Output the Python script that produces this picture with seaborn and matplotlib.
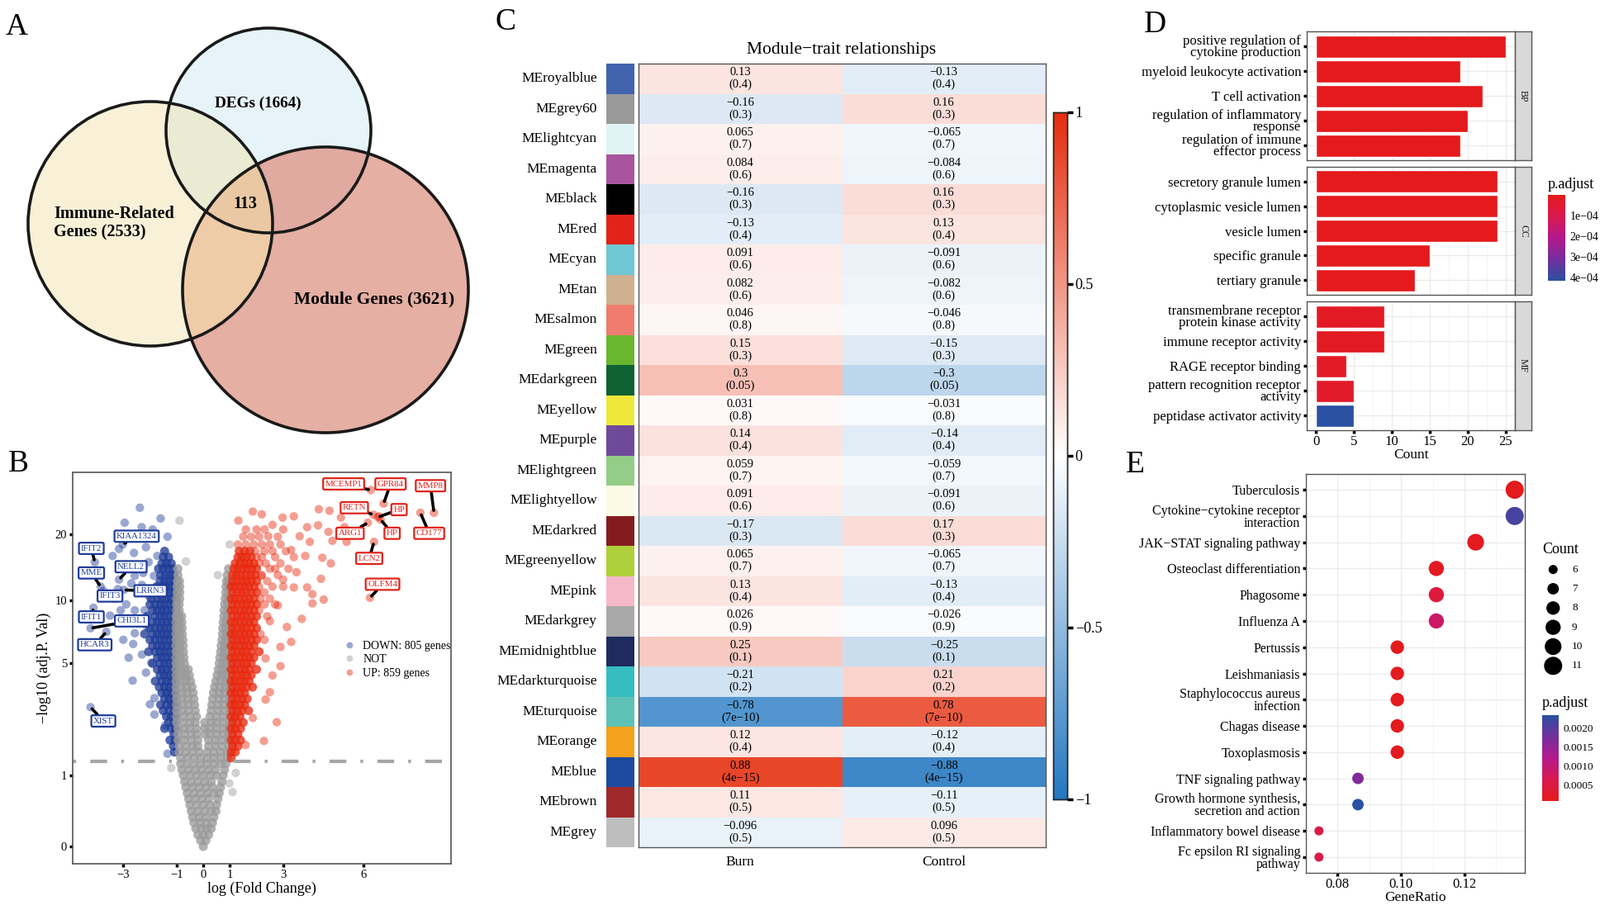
import numpy as np
import pandas as pd
import matplotlib
matplotlib.use("Agg")
import matplotlib.pyplot as plt
import seaborn as sns
from matplotlib.colors import LinearSegmentedColormap, ListedColormap, Normalize, to_rgb
from matplotlib.patches import Circle
from matplotlib.cm import ScalarMappable

# ======================= DATA =======================
# ---- A: Venn ----
venn_labels = ["Immune-Related\nGenes (2533)", "DEGs (1664)", "Module Genes (3621)"]
venn_core = "113"

# ---- B: volcano (logFC, -log10 adj.P) ----
# dense cores, row by row: (-log10 adj.P, logFC values)
not_rows = [
    (0.0, (0.0,)), (0.06, (-0.1, 0.1)), (0.12, (-0.2, 0.0, 0.2)),
    (0.19, (-0.28, -0.08, 0.12, 0.3)), (0.26, (-0.35, -0.12, 0.12, 0.35)),
    (0.33, (-0.4, -0.15, 0.1, 0.4)), (0.41, (-0.45, -0.2, 0.05, 0.3, 0.48)),
    (0.50, (-0.5, -0.25, 0.0, 0.25, 0.5)), (0.59, (-0.55, -0.3, -0.05, 0.2, 0.55)),
    (0.68, (-0.6, -0.35, -0.1, 0.15, 0.4, 0.6)), (0.78, (-0.65, -0.4, -0.15, 0.1, 0.35, 0.65)),
    (0.88, (-0.7, -0.45, -0.2, 0.05, 0.3, 0.7)), (1.0, (-0.75, -0.5, -0.25, 0.0, 0.25, 0.5, 0.75)),
    (1.11, (-0.8, -0.55, -0.3, -0.05, 0.2, 0.45, 0.8)),
    (1.24, (-0.85, -0.6, -0.35, -0.1, 0.15, 0.4, 0.65, 0.85)),
    (1.37, (-0.85, -0.6, -0.35, -0.1, 0.15, 0.4, 0.65, 0.9)),
    (1.51, (-0.9, -0.65, -0.4, -0.15, 0.15, 0.4, 0.65, 0.9)),
    (1.66, (-0.9, -0.65, -0.4, -0.2, 0.2, 0.45, 0.7, 0.95)),
    (1.82, (-0.95, -0.7, -0.45, -0.2, 0.2, 0.45, 0.7, 0.95)),
    (1.99, (-0.95, -0.7, -0.45, -0.25, 0.05, 0.25, 0.5, 0.75, 0.95)),
    (2.16, (-0.95, -0.7, -0.5, -0.25, 0.05, 0.25, 0.5, 0.75, 0.95)),
    (2.35, (-1.0, -0.75, -0.5, -0.3, 0.05, 0.3, 0.5, 0.75, 1.0)),
    (2.55, (-1.0, -0.75, -0.5, -0.25, 0.25, 0.5, 0.75, 1.0)),
    (2.76, (-1.0, -0.78, -0.55, -0.3, 0.3, 0.55, 0.78, 1.0)),
    (2.98, (-1.0, -0.78, -0.55, -0.32, 0.32, 0.55, 0.78, 1.0)),
    (3.22, (-1.0, -0.8, -0.58, -0.35, 0.35, 0.58, 0.8, 1.0)),
    (3.47, (-1.02, -0.8, -0.6, -0.38, 0.38, 0.6, 0.8, 1.0)),
    (3.73, (-1.02, -0.82, -0.62, -0.42, 0.42, 0.62, 0.82, 1.0)),
    (4.01, (-1.02, -0.84, -0.65, -0.47, 0.47, 0.65, 0.84, 1.0)),
    (4.31, (-1.02, -0.85, -0.68, -0.52, 0.52, 0.68, 0.85, 1.0)),
    (4.62, (-1.02, -0.86, -0.7, -0.56, 0.56, 0.7, 0.86, 1.0)),
    (4.96, (-1.02, -0.86, -0.7, 0.6, 0.75, 0.9, 1.0)),
    (5.31, (-1.02, -0.87, -0.72, 0.62, 0.77, 0.92)),
    (5.68, (-1.02, -0.88, -0.74, 0.65, 0.8, 0.94)),
    (6.08, (-1.02, -0.88, -0.75, 0.67, 0.82, 0.96)),
    (6.50, (-1.02, -0.89, -0.76, 0.7, 0.84, 0.97)),
    (6.94, (-1.02, -0.9, -0.78, 0.72, 0.85, 0.98)),
    (7.41, (-1.02, -0.9, -0.79, 0.73, 0.86, 0.98)),
    (7.91, (-1.02, -0.9, -0.8, 0.75, 0.88)),
    (8.44, (-1.02, -0.91, -0.81, 0.77, 0.9)),
    (9.0, (-1.0, -0.9, 0.78, 0.92)), (9.59, (-1.0, -0.9, 0.8, 0.93)),
    (10.2, (-1.0, -0.88, 0.82, 0.94)), (10.9, (-0.98, -0.88, 0.84, 0.95)),
    (11.6, (-0.98, -0.88, 0.85, 0.96)), (12.3, (-0.97, -0.89, 0.87, 0.96)),
    (13.1, (-0.95, 0.9)), (14.0, (-0.95, 0.95)),
]
not_extra = [(0.55, 13.1), (-0.65, 15.1), (0.99, 18.0), (-0.89, 23.0), (1.22, 1.05),
             (0.98, 0.85), (-1.2, 1.15), (1.1, 0.7)]
down_rows = [
    (1.51, (-1.08,)), (1.66, (-1.12,)), (1.82, (-1.05, -1.25)), (1.99, (-1.1,)),
    (2.16, (-1.05, -1.2, -1.45)), (2.35, (-1.1, -1.3)), (2.55, (-1.05, -1.2, -1.38)),
    (2.76, (-1.1, -1.28, -1.5)), (2.98, (-1.05, -1.2, -1.38, -1.6)),
    (3.22, (-1.1, -1.28, -1.45)), (3.47, (-1.05, -1.2, -1.38, -1.55)),
    (3.73, (-1.1, -1.28, -1.45, -1.65)), (4.01, (-1.05, -1.2, -1.38, -1.55, -1.8)),
    (4.31, (-1.1, -1.28, -1.45, -1.62)), (4.62, (-1.05, -1.2, -1.38, -1.55, -1.72)),
    (4.96, (-1.1, -1.28, -1.45, -1.62, -1.9)), (5.31, (-1.05, -1.2, -1.38, -1.55, -1.72)),
    (5.68, (-1.1, -1.28, -1.45, -1.62, -1.8, -2.05)),
    (6.08, (-1.05, -1.2, -1.38, -1.55, -1.72, -1.9)),
    (6.50, (-1.1, -1.28, -1.45, -1.62, -1.8, -2.0)),
    (6.94, (-1.05, -1.2, -1.38, -1.55, -1.72, -1.9, -2.2)),
    (7.41, (-1.1, -1.28, -1.45, -1.62, -1.8, -2.0)),
    (7.91, (-1.05, -1.2, -1.38, -1.55, -1.72, -1.9)),
    (8.44, (-1.1, -1.28, -1.45, -1.62, -1.8, -2.1)),
    (9.0, (-1.05, -1.2, -1.38, -1.55, -1.72, -1.9)),
    (9.59, (-1.1, -1.28, -1.45, -1.62, -1.8, -2.0)),
    (10.2, (-1.05, -1.2, -1.38, -1.55, -1.72, -1.95)),
    (10.9, (-1.1, -1.28, -1.45, -1.62, -1.8)),
    (11.6, (-1.05, -1.2, -1.38, -1.55, -1.75)),
    (12.3, (-1.1, -1.28, -1.45, -1.62)), (13.1, (-1.1, -1.25, -1.42, -1.6)),
    (14.0, (-1.15, -1.32, -1.5, -1.68)), (14.8, (-1.2, -1.38, -1.55)),
    (15.8, (-1.3, -1.5)), (16.8, (-1.45,)),
]
down_extra = [
    (-2.38, 26.2), (-2.95, 22.5), (-2.31, 21.5), (-1.34, 19.5), (-3.16, 17.2),
    (-2.63, 6.2), (-2.65, 4.04), (-2.15, 4.45), (-1.83, 3.25), (-1.83, 2.62),
    (-1.43, 2.26), (-1.34, 1.47), (-2.89, 9.6), (-2.57, 9.0), (-2.04, 10.5),
    (-2.57, 7.0), (-3.2, 11.3), (-2.25, 13.4), (-1.72, 16.0), (-2.57, 13.0),
    (-2.15, 17.5), (-2.2, 9.0), (-3.32, 10.2), (-2.4, 7.8), (-2.8, 5.3),
    (-2.9, 14.5), (-3.4, 16.0), (-2.6, 16.5), (-3.5, 8.5), (-3.0, 6.5), (-2.3, 5.5),
    (-2.0, 3.0), (-1.95, 5.0), (-2.1, 7.5), (-2.3, 11.8), (-2.7, 12.0), (-3.1, 9.0),
    (-2.45, 20.0), (-1.9, 21.0), (-1.6, 23.5), (-1.85, 13.0), (-2.05, 15.0),
]
up_rows = [
    (1.37, (1.05,)), (1.51, (1.05, 1.2)), (1.66, (1.1, 1.3)), (1.82, (1.05, 1.2, 1.4)),
    (1.99, (1.1, 1.3)), (2.16, (1.05, 1.2, 1.4)), (2.35, (1.1, 1.28, 1.5)),
    (2.55, (1.05, 1.2, 1.38)), (2.76, (1.1, 1.28, 1.45, 1.7)),
    (2.98, (1.05, 1.2, 1.38, 1.55)), (3.22, (1.1, 1.28, 1.45, 1.65)),
    (3.47, (1.05, 1.2, 1.38, 1.55)), (3.73, (1.1, 1.28, 1.45, 1.62, 1.85)),
    (4.01, (1.05, 1.2, 1.38, 1.55, 1.72)), (4.31, (1.1, 1.28, 1.45, 1.62, 1.8)),
    (4.62, (1.05, 1.2, 1.38, 1.55, 1.72, 2.0)), (4.96, (1.1, 1.28, 1.45, 1.62, 1.8)),
    (5.31, (1.05, 1.2, 1.38, 1.55, 1.72, 1.9)),
    (5.68, (1.1, 1.28, 1.45, 1.62, 1.8, 2.1)),
    (6.08, (1.05, 1.2, 1.38, 1.55, 1.72, 1.9)),
    (6.50, (1.1, 1.28, 1.45, 1.62, 1.8, 2.0)),
    (6.94, (1.05, 1.2, 1.38, 1.55, 1.72, 1.9)),
    (7.41, (1.1, 1.28, 1.45, 1.62, 1.8, 2.0)),
    (7.91, (1.05, 1.2, 1.38, 1.55, 1.72, 1.9)),
    (8.44, (1.1, 1.28, 1.45, 1.62, 1.8, 2.0)),
    (9.0, (1.05, 1.2, 1.38, 1.55, 1.72, 1.9)),
    (9.59, (1.1, 1.28, 1.45, 1.62, 1.8, 2.0)),
    (10.2, (1.05, 1.2, 1.38, 1.55, 1.72, 1.9)),
    (10.9, (1.1, 1.28, 1.45, 1.62, 1.8, 2.0)),
    (11.6, (1.05, 1.2, 1.38, 1.55, 1.72, 1.9)),
    (12.3, (1.1, 1.28, 1.45, 1.62, 1.8, 2.0)),
    (13.1, (1.1, 1.25, 1.42, 1.6, 1.78, 1.95)),
    (14.0, (1.15, 1.3, 1.48, 1.65, 1.82, 2.0)),
    (14.8, (1.2, 1.38, 1.55, 1.72, 1.9)),
    (15.8, (1.3, 1.45, 1.62, 1.8)),
    (16.8, (1.35, 1.55, 1.75)),
]
up_extra = [
    (1.86, 25.2), (1.32, 23.0), (2.98, 23.7), (4.34, 25.8), (4.74, 25.4), (4.31, 21.9),
    (5.17, 23.7), (6.6, 24.0), (4.85, 18.7), (5.38, 18.5), (4.47, 15.7), (4.79, 14.8),
    (4.42, 12.6), (4.1, 10.7), (4.52, 10.1), (4.1, 9.7), (3.4, 11.5), (3.14, 7.5),
    (3.3, 6.35), (2.34, 5.26), (2.34, 3.19), (2.76, 2.36), (2.28, 1.8), (1.86, 2.5),
    (1.59, 1.69), (3.62, 19.6), (3.83, 16.0), (2.44, 19.6), (2.18, 13.0), (2.6, 4.3),
    (2.5, 8.0), (2.8, 9.5), (3.0, 12.5), (2.7, 14.0), (3.5, 13.5), (3.9, 11.5),
    (2.9, 6.0), (2.5, 3.5), (2.9, 4.8), (3.7, 8.2), (3.3, 17.0), (4.0, 18.5),
    (3.9, 21.5), (2.6, 22.0), (3.4, 24.0), (2.2, 24.5), (4.7, 20.5), (5.3, 21.5),
    (2.3, 6.5), (2.15, 6.94), (2.4, 8.44), (2.1, 9.0), (2.3, 9.59), (2.7, 9.59),
    (2.15, 10.2), (2.5, 10.2), (2.3, 10.9), (2.1, 11.6), (2.6, 11.6), (3.0, 11.6),
    (2.4, 12.3), (2.2, 13.1), (2.8, 13.1), (2.5, 14.0), (3.2, 14.0), (2.1, 14.8),
    (2.35, 14.8), (2.9, 14.8), (2.0, 15.8), (2.2, 15.8), (2.7, 15.8), (3.4, 15.8),
    (1.95, 16.8), (2.3, 16.8), (2.6, 16.8), (3.1, 16.8), (1.3, 18.0), (1.6, 18.0),
    (1.9, 18.0), (2.2, 18.0), (2.5, 18.0), (2.9, 18.0), (1.5, 19.5), (1.8, 19.5),
    (2.1, 19.5), (2.8, 19.5), (1.6, 21.0), (2.0, 21.0), (2.3, 21.0), (3.0, 21.0),
]
group_names = ["DOWN: 805 genes", "NOT", "UP: 859 genes"]
padj_cut = 1.301
down_genes = ["KIAA1324", "IFIT2", "MME", "NELL2", "LRRN3", "IFIT3", "IFIT1", "CHI3L1", "HCAR3", "XIST"]
down_gene_pts = [(-3.02, 18.0), (-4.07, 15.0), (-3.85, 11.6), (-3.16, 12.5), (-2.98, 11.2),
                 (-3.75, 11.1), (-4.12, 9.25), (-4.23, 7.4), (-3.64, 7.1), (-4.23, 2.89)]
up_genes = ["MCEMP1", "GPR84", "MMP8", "RETN", "HP", "ARG1", "HP", "CD177", "LCN2", "OLFM4"]
up_gene_pts = [(6.29, 31.3), (6.77, 27.3), (8.66, 24.9), (6.39, 24.4), (6.55, 23.8),
               (6.18, 22.5), (6.66, 23.2), (8.15, 24.9), (6.41, 18.5), (6.26, 10.3)]

# ---- C: module-trait heatmap ----
modules = ["royalblue", "grey60", "lightcyan", "magenta", "black", "red", "cyan", "tan",
           "salmon", "green", "darkgreen", "yellow", "purple", "lightgreen", "lightyellow",
           "darkred", "greenyellow", "pink", "darkgrey", "midnightblue", "darkturquoise",
           "turquoise", "orange", "blue", "brown", "grey"]
burn_cor = [0.13, -0.16, 0.065, 0.084, -0.16, -0.13, 0.091, 0.082, 0.046, 0.15, 0.3, 0.031,
            0.14, 0.059, 0.091, -0.17, 0.065, 0.13, 0.026, 0.25, -0.21, -0.78, 0.12, 0.88,
            0.11, -0.096]
control_cor = [-0.13, 0.16, -0.065, -0.084, 0.16, 0.13, -0.091, -0.082, -0.046, -0.15, -0.3,
               -0.031, -0.14, -0.059, -0.091, 0.17, -0.065, -0.13, -0.026, -0.25, 0.21, 0.78,
               -0.12, -0.88, -0.11, 0.096]
trait_p = [0.4, 0.3, 0.7, 0.6, 0.3, 0.4, 0.6, 0.6, 0.8, 0.3, 0.05, 0.8, 0.4, 0.7, 0.6, 0.3,
           0.7, 0.4, 0.9, 0.1, 0.2, 7e-10, 0.4, 4e-15, 0.5, 0.5]
traits = ["Burn", "Control"]

# ---- D: GO enrichment ----
bp_terms = ["positive regulation of\ncytokine production", "myeloid leukocyte activation",
            "T cell activation", "regulation of inflammatory\nresponse",
            "regulation of immune\neffector process"]
bp_counts = [25, 19, 22, 20, 19]
bp_padj = [1e-9, 2e-9, 2e-9, 3e-9, 4e-9]
cc_terms = ["secretory granule lumen", "cytoplasmic vesicle lumen", "vesicle lumen",
            "specific granule", "tertiary granule"]
cc_counts = [24, 24, 24, 15, 13]
cc_padj = [1e-9, 1e-9, 1e-9, 2e-9, 3e-9]
mf_terms = ["transmembrane receptor\nprotein kinase activity", "immune receptor activity",
            "RAGE receptor binding", "pattern recognition receptor\nactivity",
            "peptidase activator activity"]
mf_counts = [9, 9, 4, 5, 5]
mf_padj = [1.6e-5, 1.6e-5, 2.2e-5, 2.8e-5, 4.16e-4]

# ---- E: KEGG enrichment ----
kegg_terms = ["Tuberculosis", "Cytokine\u2212cytokine receptor\ninteraction",
              "JAK\u2212STAT signaling pathway", "Osteoclast differentiation", "Phagosome",
              "Influenza A", "Pertussis", "Leishmaniasis", "Staphylococcus aureus\ninfection",
              "Chagas disease", "Toxoplasmosis", "TNF signaling pathway",
              "Growth hormone synthesis,\nsecretion and action", "Inflammatory bowel disease",
              "Fc epsilon RI signaling\npathway"]
kegg_count = [11, 11, 10, 9, 9, 9, 8, 8, 8, 8, 8, 7, 7, 6, 6]
kegg_ratio = [0.1358, 0.1358, 0.1235, 0.1111, 0.1111, 0.1111, 0.0988, 0.0988, 0.0988,
              0.0988, 0.0988, 0.0864, 0.0864, 0.0741, 0.0741]
kegg_padj = [0.000083, 0.00210, 0.00012, 0.00015, 0.00045, 0.00085, 0.00010, 0.00011,
             0.00012, 0.00010, 0.00012, 0.00165, 0.00233, 0.00060, 0.00062]
count_levels = [6, 7, 8, 9, 10, 11]

# ======================= STYLE =======================
sns.set_theme(style="white")
plt.rcParams['font.family'] = ['Liberation Serif', 'DejaVu Serif']
for k in ['text.color', 'axes.labelcolor', 'xtick.color', 'ytick.color']:
    plt.rcParams[k] = 'black'
plt.rcParams['axes.unicode_minus'] = True

W, H = 1937, 1102
fig = plt.figure(figsize=(W / 100, H / 100), dpi=100)
fig.patch.set_facecolor('white')


def add_ax(l, t, r, b):
    return fig.add_axes([l / W, 1 - b / H, (r - l) / W, (b - t) / H])


FRAME = '#555555'
go_cmap = LinearSegmentedColormap.from_list(
    'go', [(0, '#E41A1C'), (0.25, '#D91A4E'), (0.5, '#B5188D'), (0.75, '#732F9C'), (1, '#2A50A2')])
wgcna_cmap = LinearSegmentedColormap.from_list(
    'bwr', [(0, '#2377C0'), (0.5, '#FFFFFF'), (1, '#E52D0D')])

# ======================= A: Venn =======================
axA = add_ax(0, 0, 600, 560)
axA.set_xlim(0, 600)
axA.set_ylim(560, 0)
axA.axis('off')
circles = [(182, 271, 148), (325, 158, 124), (394, 351, 173)]  # immune, DEGs, module
yy, xx = np.mgrid[0:560, 0:600]
yy = yy + 0.5
xx = xx + 0.5
ins = [((xx - cx) ** 2 + (yy - cy) ** 2) <= r ** 2 for cx, cy, r in circles]
I, Dg, M = ins
img = np.ones((560, 600, 3))
region_cols = [
    (I & ~Dg & ~M, '#F8F1D8'), (Dg & ~I & ~M, '#E6F3F8'), (M & ~I & ~Dg, '#E5AFA3'),
    (I & Dg & ~M, '#EAEBD3'), (I & M & ~Dg, '#EECCA8'), (Dg & M & ~I, '#E0AAA0'),
    (I & Dg & M, '#EAC8A4'),
]
for mask, col in region_cols:
    img[mask] = to_rgb(col)
axA.imshow(img, extent=(0, 600, 560, 0), interpolation='bilinear', aspect='auto')
for cx, cy, r in circles:
    axA.add_patch(Circle((cx, cy), r, fill=False, ec='#1a1a1a', lw=2.6))
axA.text(65, 270, venn_labels[0], ha='left', va='center', fontsize=14.5, fontweight='bold',
         linespacing=1.2)
axA.text(312, 125, venn_labels[1], ha='center', va='center', fontsize=13.8, fontweight='bold')
axA.text(453, 362, venn_labels[2], ha='center', va='center', fontsize=15.5, fontweight='bold')
axA.text(297, 247, venn_core, ha='center', va='center', fontsize=14.5, fontweight='bold')


# ======================= B: Volcano =======================
def expand(rows):
    return [(x, y) for y, xs in rows for x in xs]


def frame(pts, g):
    return pd.DataFrame([(x, y, g) for x, y in pts], columns=['logFC', 'nlogp', 'group'])


pal_B = {group_names[0]: '#1F3C98', group_names[1]: '#9A9A9A', group_names[2]: '#E8290F'}
dense_df = pd.concat([frame(expand(down_rows), group_names[0]),
                      frame(expand(not_rows), group_names[1]),
                      frame(expand(up_rows), group_names[2])], ignore_index=True)
sparse_df = pd.concat([frame(down_extra + down_gene_pts, group_names[0]),
                       frame(not_extra, group_names[1]),
                       frame(up_extra + up_gene_pts, group_names[2])], ignore_index=True)

axB = add_ax(88, 572, 546, 1046)
axB.set_yscale('function', functions=(lambda v: np.log10(1 + np.clip(v, -0.99, None)),
                                      lambda v: 10 ** v - 1))
sns.scatterplot(data=sparse_df, x='logFC', y='nlogp', hue='group', hue_order=group_names,
                palette=pal_B, s=55, alpha=0.45, linewidth=0, ax=axB, legend=True)
sns.scatterplot(data=dense_df, x='logFC', y='nlogp', hue='group', hue_order=group_names,
                palette=pal_B, s=62, alpha=0.78, linewidth=0, ax=axB, legend=False)
axB.set_xlim(-4.9, 9.3)
axB.set_ylim(-0.155, 37.4)
axB.axhline(padj_cut, color='#A6A6A6', lw=3, solid_capstyle='butt', dash_capstyle='butt',
            linestyle=(8.8, (4.9, 4.1, 0.8, 4.1)), zorder=1)
axB.set_xticks([-3, -1, 0, 1, 3, 6])
axB.set_yticks([0, 1, 5, 10, 20])
axB.set_yticklabels(['0', '1', '5', '10', '20'])
axB.minorticks_off()
axB.tick_params(axis='both', length=3, width=2.5, direction='out', labelsize=10.5, pad=2,
                bottom=True, left=True)
axB.set_xlabel('log (Fold Change)', fontsize=13, labelpad=1)
axB.set_ylabel('\u2212log10 (adj.P. Val)', fontsize=13, labelpad=3)
for sp in axB.spines.values():
    sp.set_color(FRAME)
    sp.set_linewidth(1.2)
leg = axB.legend(loc='upper left', bbox_to_anchor=(0.685, 0.585), frameon=False,
                 fontsize=10, handletextpad=0.2, labelspacing=0.25, borderpad=0,
                 markerscale=0.75)
for h in leg.legend_handles:
    h.set_alpha(0.45)

down_label_pos = [(-2.5, 19.6), (-4.2, 17.3), (-4.2, 13.4), (-2.71, 14.3), (-1.98, 11.1),
                  (-3.5, 10.5), (-4.2, 8.38), (-2.68, 8.02), (-4.07, 6.15), (-3.75, 2.4)]
up_label_pos = [(5.27, 33.3), (7.03, 33.3), (8.53, 32.7), (5.67, 26.2), (7.35, 25.7),
                (5.51, 20.2), (7.09, 20.2), (8.48, 20.2), (6.23, 15.6), (6.73, 11.9)]
for genes, pts, poss, col in [(down_genes, down_gene_pts, down_label_pos, '#1F3C98'),
                              (up_genes, up_gene_pts, up_label_pos, '#E0231A')]:
    for g, p, tp in zip(genes, pts, poss):
        axB.annotate(g, xy=p, xytext=tp, ha='center', va='center', fontsize=7.8, color=col,
                     bbox=dict(boxstyle='round,pad=0.22,rounding_size=0.15', fc='white',
                               ec=col, lw=1.6),
                     arrowprops=dict(arrowstyle='-', color='black', lw=2.6, shrinkA=0,
                                     shrinkB=2), zorder=5)

# ======================= C: Heatmap =======================
module_colors = ['#4263AE', '#999999', '#E1F3F5', '#A9559E', '#000000', '#E2231A', '#6EC7D3',
                 '#CFB08F', '#EE7D6F', '#6AB62E', '#0F6232', '#EFE83A', '#6F4A9B', '#94CD87',
                 '#FBFAE5', '#841C1F', '#AECF3A', '#F5B8C8', '#A8A8A8', '#1F2A5E', '#37BDC0',
                 '#5EC1B6', '#F4A11D', '#1E4AA0', '#9F2A2A', '#BEBEBE']
row_names = ['ME' + m for m in modules]
axS = add_ax(734, 77, 768, 1026)
strip_df = pd.DataFrame({'m': list(range(len(modules)))}, index=row_names)
sns.heatmap(strip_df, ax=axS, cmap=ListedColormap(module_colors), cbar=False,
            vmin=-0.5, vmax=len(modules) - 0.5, xticklabels=False, yticklabels=True)
axS.tick_params(axis='y', length=0, pad=8, labelsize=12.5)
plt.setp(axS.get_yticklabels(), rotation=0)
axS.set_ylabel('')


def fmt_r(v):
    return f"{v:.2g}".replace('-', '\u2212')


def fmt_p(v):
    return f"{v:.1g}".replace('-', '\u2212')


cor_df = pd.DataFrame({traits[0]: burn_cor, traits[1]: control_cor}, index=row_names)
annot = np.array([[f"{fmt_r(a)}\n({fmt_p(p)})", f"{fmt_r(b)}\n({fmt_p(p)})"]
                  for a, b, p in zip(burn_cor, control_cor, trait_p)])
axC = add_ax(773, 77, 1266, 1026)
caxC = add_ax(1275, 136, 1292, 968)
sns.heatmap(cor_df, ax=axC, cmap=wgcna_cmap, vmin=-1, vmax=1, annot=annot, fmt='',
            annot_kws={'fontsize': 10.5, 'color': 'black', 'linespacing': 1.1},
            cbar_ax=caxC, yticklabels=False)
axC.tick_params(axis='x', length=0, pad=7, labelsize=12.5)
plt.setp(axC.get_xticklabels(), rotation=0)
for sp in axC.spines.values():
    sp.set_visible(True)
    sp.set_color(FRAME)
    sp.set_linewidth(1)
caxC.set_yticks([-1, -0.5, 0, 0.5, 1])
caxC.set_yticklabels(['\u22121', '\u22120.5', '0', '0.5', '1'])
caxC.tick_params(axis='y', length=5, width=2.5, labelsize=13, pad=2, colors='black')
for sp in caxC.spines.values():
    sp.set_visible(True)
    sp.set_color('#222222')
    sp.set_linewidth(1)
fig.text(1019 / W, 1 - 60 / H, 'Module\u2212trait relationships', ha='center', va='center',
         fontsize=15.5)

# ======================= D: GO barplot =======================
all_go_p = bp_padj + cc_padj + mf_padj
go_norm = Normalize(min(all_go_p), max(all_go_p))
facets = [("BP", bp_terms, bp_counts, bp_padj, (38, 194)),
          ("CC", cc_terms, cc_counts, cc_padj, (202, 357)),
          ("MF", mf_terms, mf_counts, mf_padj, (365, 521))]
for name, terms, counts, padj, (t, b) in facets:
    ax = add_ax(1582, t, 1834, b)
    df = pd.DataFrame({'Description': terms, 'Count': counts, 'p.adjust': padj})
    cols = [go_cmap(go_norm(p)) for p in padj]
    sns.barplot(data=df, x='Count', y='Description', hue='Description', palette=cols,
                legend=False, width=0.9, saturation=1, errorbar=None, orient='h', ax=ax)
    ax.set_xlim(-1.25, 26.25)
    ax.set_ylim(4.6, -0.6)
    ax.set_xticks([0, 5, 10, 15, 20, 25])
    ax.set_xticks([2.5, 7.5, 12.5, 17.5, 22.5], minor=True)
    ax.grid(True, which='major', color='#EBEBEB', lw=1)
    ax.grid(True, which='minor', axis='x', color='#F2F2F2', lw=0.6)
    ax.set_axisbelow(True)
    ax.set_ylabel('')
    ax.tick_params(axis='y', labelsize=12, length=3, width=2.5, pad=2, left=True)
    for tl in ax.get_yticklabels():
        tl.set_linespacing(0.85)
    if name == 'MF':
        ax.tick_params(axis='x', labelsize=12, length=3, width=2.5, pad=1, bottom=True)
        ax.set_xlabel('Count', fontsize=12.5, labelpad=0)
    else:
        ax.tick_params(axis='x', labelbottom=False, length=0)
        ax.set_xlabel('')
    ax.tick_params(which='minor', length=0)
    for sp in ax.spines.values():
        sp.set_color(FRAME)
        sp.set_linewidth(1)
    sax = add_ax(1834, t, 1854, b)
    sax.set_facecolor('#D9D9D9')
    sax.set_xticks([])
    sax.set_yticks([])
    for sp in sax.spines.values():
        sp.set_color(FRAME)
        sp.set_linewidth(1)
    sax.text(0.5, 0.5, name, rotation=270, ha='center', va='center', fontsize=8.5,
             color='#1A1A1A', transform=sax.transAxes)

caxD = add_ax(1874, 236, 1895, 340)
cbD = fig.colorbar(ScalarMappable(norm=go_norm, cmap=go_cmap), cax=caxD)
cbD.outline.set_visible(False)
caxD.invert_yaxis()
cbD.set_ticks([1e-4, 2e-4, 3e-4, 4e-4])
cbD.set_ticklabels(['1e\u221204', '2e\u221204', '3e\u221204', '4e\u221204'])
caxD.tick_params(axis='y', direction='in', color='white', length=4, width=1.2, labelsize=10,
                 pad=4, left=True, right=True)
fig.text(1874 / W, 1 - 223 / H, 'p.adjust', ha='left', va='center', fontsize=13)

# ======================= E: KEGG dotplot =======================
dfE = pd.DataFrame({'Description': kegg_terms, 'GeneRatio': kegg_ratio,
                    'Count': kegg_count, 'p.adjust': kegg_padj})
e_norm = (min(kegg_padj), max(kegg_padj))
axE = add_ax(1581, 574, 1846, 1057)
sns.scatterplot(data=dfE, x='GeneRatio', y='Description', size='Count', sizes=(63, 250),
                size_norm=(6, 11), hue='p.adjust', palette=go_cmap, hue_norm=e_norm,
                legend=False, linewidth=0, ax=axE, zorder=3)
axE.set_xlim(0.0710, 0.139)
axE.set_ylim(len(kegg_terms) - 0.4, -0.6)
axE.set_xticks([0.08, 0.10, 0.12])
axE.set_xticklabels(['0.08', '0.10', '0.12'])
axE.set_xticks([0.07, 0.09, 0.11, 0.13], minor=True)
axE.grid(True, which='major', color='#EBEBEB', lw=1)
axE.grid(True, which='minor', axis='x', color='#F2F2F2', lw=0.6)
axE.set_axisbelow(True)
axE.set_ylabel('')
axE.set_xlabel('GeneRatio', fontsize=12.5, labelpad=0)
axE.tick_params(axis='y', labelsize=11.5, length=3, width=2.5, pad=2, left=True)
axE.tick_params(axis='x', labelsize=12, length=3, width=2.5, pad=1, bottom=True)
axE.tick_params(which='minor', length=0)
for tl in axE.get_yticklabels():
    tl.set_linespacing(0.92)
for sp in axE.spines.values():
    sp.set_color(FRAME)
    sp.set_linewidth(1)

# size legend
fig.text(1867 / W, 1 - 666 / H, 'Count', ha='left', va='center', fontsize=13)
legE = add_ax(1862, 678, 1935, 818)
sns.scatterplot(x=[0] * len(count_levels), y=count_levels, size=count_levels, sizes=(63, 250),
                size_norm=(6, 11), color='black', linewidth=0, legend=False, ax=legE)
legE.set_xlim(-1, 3)
legE.set_ylim(11.5, 5.5)
for c in count_levels:
    legE.text(1.25, c, str(c), ha='left', va='center', fontsize=9.5)
legE.axis('off')

# colour legend
fig.text(1867 / W, 1 - 852 / H, 'p.adjust', ha='left', va='center', fontsize=13)
caxE = add_ax(1867, 866, 1887, 970)
cbE = fig.colorbar(ScalarMappable(norm=Normalize(*e_norm), cmap=go_cmap), cax=caxE)
cbE.outline.set_visible(False)
cbE.set_ticks([0.0005, 0.0010, 0.0015, 0.0020])
cbE.set_ticklabels(['0.0005', '0.0010', '0.0015', '0.0020'])
caxE.tick_params(axis='y', direction='in', color='white', length=4, width=1.2, labelsize=9.5,
                 pad=4, left=True, right=True)

# ======================= panel letters =======================
for letter, (px, py) in zip("ABCDE", [(20, 33), (22, 562), (612, 27), (1398, 30), (1374, 563)]):
    fig.text(px / W, 1 - py / H, letter, ha='center', va='center', fontsize=27)

fig.savefig('out.png', dpi=100, facecolor='white')
